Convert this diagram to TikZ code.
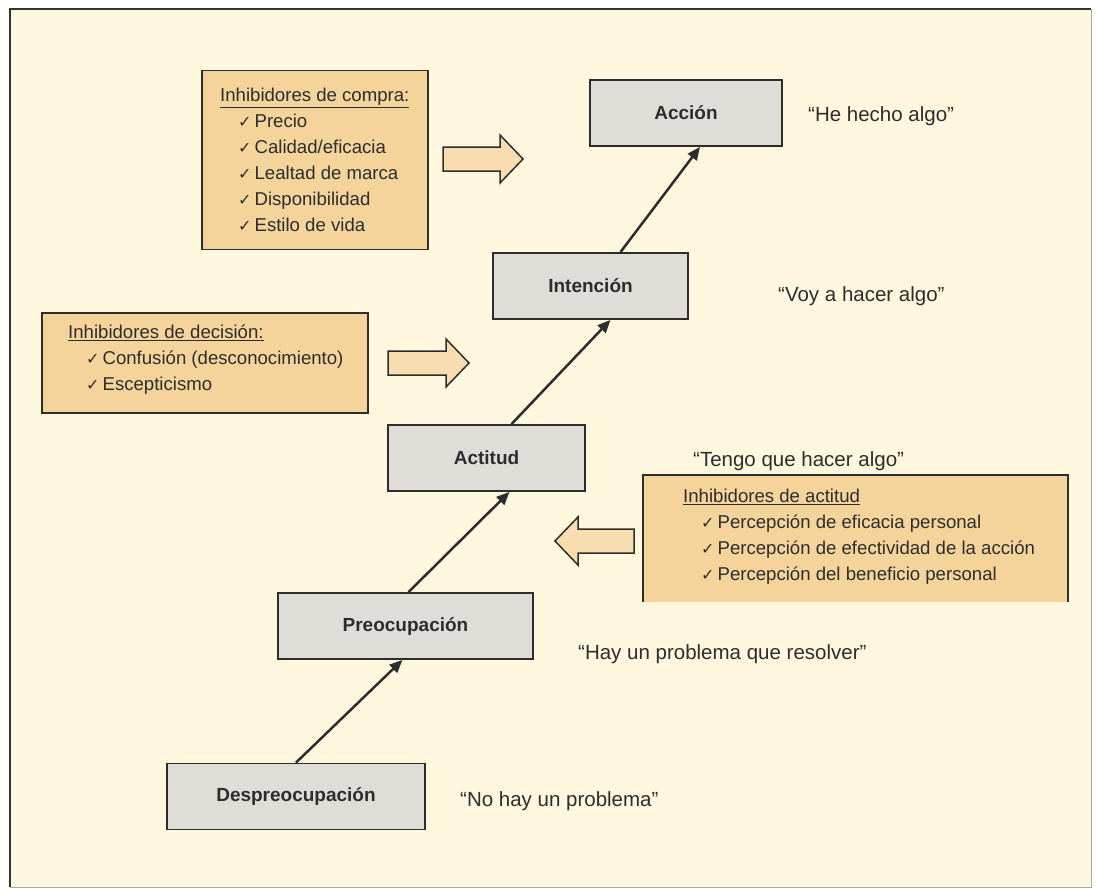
\documentclass[tikz,border=0pt]{standalone}
\usepackage{fontspec}
\setmainfont{Liberation Sans}
\newfontfamily\symf{DejaVu Sans}
\usetikzlibrary{arrows.meta}
\definecolor{bgc}{RGB}{255,248,222}
\definecolor{boxg}{RGB}{224,220,215}
\definecolor{orangeb}{RGB}{245,212,155}
\definecolor{arrowf}{RGB}{247,221,175}
\definecolor{txt}{RGB}{45,45,45}
\definecolor{edgec}{RGB}{45,45,45}
\newcommand{\ck}{{\symf\fontsize{16}{16}\selectfont ✓}\hspace{3pt}}
\newcommand{\ind}{\hspace*{18pt}}
\begin{document}
\begin{tikzpicture}[x=1pt,y=-1pt,
  stagebox/.style={draw=edgec, line width=1.8pt, fill=boxg, minimum height=66pt, inner sep=0pt, font=\fontsize{19}{22}\selectfont\bfseries, text=txt},
  inhib/.style={draw=edgec, line width=1.8pt, fill=orangeb, inner sep=0pt},
  quotetxt/.style={anchor=west, font=\fontsize{20.5}{24}\selectfont, text=txt, inner sep=0pt},
  listtxt/.style={anchor=north west, align=left, font=\fontsize{18.6}{26}\selectfont, text=txt, inner sep=0pt},
  link/.style={line width=2.5pt, draw=edgec, -{Triangle[length=13pt,width=11pt]}},
  blockarrow/.style={draw=edgec, line width=1.5pt, fill=arrowf, line join=miter}
]
\useasboundingbox (0,0) rectangle (1096,891);
\fill[white] (0,0) rectangle (1096,891);
\fill[bgc] (10,9) rectangle (1091,887);
\draw[black!35, line width=1pt] (10,887) -- (1091,887) -- (1091,9);
\draw[black!80, line width=2pt] (10,887) -- (10,9) -- (1091,9);

% stages
\node[stagebox, minimum width=192pt] (acc) at (686,113) {Acción};
\node[stagebox, minimum width=195pt] (int) at (590.5,286) {Intención};
\node[stagebox, minimum width=197pt] (act) at (486.5,458) {Actitud};
\node[stagebox, minimum width=255pt] (pre) at (405.5,626) {Preocupación};
\node[stagebox, minimum width=258pt] (des) at (296,796.5) {Despreocupación};

\draw[link] (des.north) -- ([xshift=-3pt]pre.south);
\draw[link] ([xshift=3pt]pre.north) -- ([xshift=23pt]act.south);
\draw[link] ([xshift=25pt]act.north) -- ([xshift=20pt]int.south);
\draw[link] ([xshift=30pt]int.north) -- ([xshift=14pt]acc.south);

% quotes
\node[quotetxt] (qacc) at (808,116) {“He hecho algo”};
\node[quotetxt] (qint) at (778,296) {“Voy a hacer algo”};
\node[quotetxt] (qact) at (693,461) {“Tengo que hacer algo”};
\node[quotetxt] (qpre) at (578,654) {“Hay un problema que resolver”};
\node[quotetxt] (qdes) at (460,801) {“No hay un problema”};

% inhibidores de compra
\node[inhib, minimum width=226pt, minimum height=179pt] (compra) at (315,160) {};
\node[listtxt] (compratxt) at (220,88) {\underline{Inhibidores de compra:}\\
\ind\ck Precio\\
\ind\ck Calidad/eficacia\\
\ind\ck Lealtad de marca\\
\ind\ck Disponibilidad\\
\ind\ck Estilo de vida};
\draw[blockarrow] (443,147) -- (500,147) -- (500,135) -- (523,159) -- (500,183) -- (500,171) -- (443,171) -- cycle;

% inhibidores de decision
\node[inhib, minimum width=326pt, minimum height=100pt] (decis) at (205,363) {};
\node[listtxt] (decistxt) at (68,325) {\underline{Inhibidores de decisión:}\\
\ind\ck Confusión (desconocimiento)\\
\ind\ck Escepticismo};
\draw[blockarrow] (388,351) -- (446,351) -- (446,339) -- (469,363) -- (446,387) -- (446,375) -- (388,375) -- cycle;

% inhibidores de actitud
\node[fill=orangeb, minimum width=425pt, minimum height=127pt, inner sep=0pt] (actit) at (855.5,538.5) {};
\draw[edgec, line width=1.8pt] (actit.south west) -- (actit.north west) -- (actit.north east) -- (actit.south east);
\node[listtxt] (actittxt) at (683,489) {\underline{Inhibidores de actitud}\\
\ind\ck Percepción de eficacia personal\\
\ind\ck Percepción de efectividad de la acción\\
\ind\ck Percepción del beneficio personal};
\draw[blockarrow] (634,529) -- (578,529) -- (578,517) -- (555,541) -- (578,565) -- (578,553) -- (634,553) -- cycle;
\end{tikzpicture}
\end{document}
